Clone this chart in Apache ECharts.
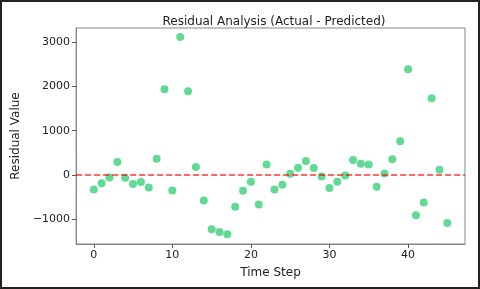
<!DOCTYPE html>
<html>
<head>
<meta charset="utf-8">
<script src="https://cdn.jsdelivr.net/npm/echarts@6/dist/echarts.min.js"></script>
<style>
html,body{margin:0;padding:0;background:#fff;}
#c{width:480px;height:289px;box-sizing:border-box;border:2px solid #222;}
</style>
</head>
<body>
<div id="c"></div>
<script>
const timeSteps = [0,1,2,3,4,5,6,7,8,9,10,11,12,13,14,15,16,17,18,19,20,21,22,23,24,25,26,27,28,29,30,31,32,33,34,35,36,37,38,39,40,41,42,43,44,45];
const residuals = [-323,-181,-52,293,-60,-203,-158,-278,368,1934,-346,3108,1889,180,-572,-1219,-1279,-1332,-715,-354,-150,-662,241,-323,-218,30,166,316,158,-30,-293,-150,-8,339,256,241,-263,38,354,760,2385,-903,-617,1731,120,-1076];
const xTicks = [0,10,20,30,40];
const yTicks = [-1000,0,1000,2000,3000];

const chart = echarts.init(document.getElementById('c'), null, {renderer:'canvas'});
const font = 'DejaVu Sans';
chart.setOption({
  animation:false,
  title:{text:'Residual Analysis (Actual - Predicted)', left:267, top:9, textAlign:'center',
    textStyle:{fontFamily:font, fontSize:12, fontWeight:'normal', color:'#222'}},
  grid:{left:70, right:13, top:26, bottom:43, show:true, borderColor:'#888', borderWidth:1, backgroundColor:'transparent'},
  xAxis:{type:'value', min:-2.25, max:47.25,
    name:'Time Step', nameLocation:'middle', nameGap:23,
    nameTextStyle:{fontFamily:font, fontSize:12, color:'#222'},
    axisLine:{show:true, onZero:false, lineStyle:{color:'#888'}},
    axisTick:{show:true, length:4, lineStyle:{color:'#555'}, customValues:xTicks},
    axisLabel:{fontFamily:font, fontSize:11, color:'#222', margin:6, customValues:xTicks},
    splitLine:{show:false}},
  yAxis:{type:'value', min:-1551, max:3311,
    name:'Residual Value', nameLocation:'middle', nameGap:45,
    nameTextStyle:{fontFamily:font, fontSize:12, color:'#222'},
    axisLine:{show:true, onZero:false, lineStyle:{color:'#888'}},
    axisTick:{show:true, length:4, lineStyle:{color:'#555'}, customValues:yTicks},
    axisLabel:{fontFamily:font, fontSize:11, color:'#222', margin:6, customValues:yTicks,
      formatter:v=>String(Math.round(v)).replace('-','\u2212')},
    splitLine:{show:false}},
  series:[{
    type:'scatter',
    data: timeSteps.map((t,i)=>[t,residuals[i]]),
    symbolSize:8,
    itemStyle:{color:'#2ecc71', opacity:0.75},
    markLine:{silent:true, symbol:'none', label:{show:false},
      lineStyle:{color:'#ff0000', type:[6,3], width:1.6, opacity:0.8},
      data:[{yAxis:0}]}
  }]
});
</script>
</body>
</html>
